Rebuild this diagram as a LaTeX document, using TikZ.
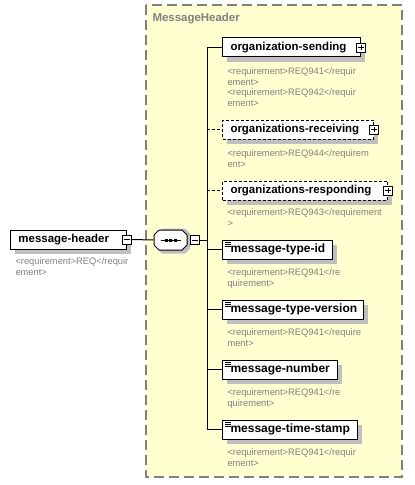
\documentclass[tikz,border=0pt]{standalone}
\usepackage{fontspec}
\setmainfont{Liberation Sans}
\usetikzlibrary{shadows}
\definecolor{groupfill}{RGB}{255,255,208}
\definecolor{framegray}{RGB}{128,128,128}
\definecolor{reqgray}{RGB}{128,128,128}
\tikzset{
  elem/.style={draw, fill=white, line width=0.75pt, anchor=west, align=left,
    minimum height=14.25pt, inner xsep=6pt, inner ysep=0pt, text width=#1,
    execute at begin node={\exhyphenpenalty=10000\hbadness=10000\hfuzz=20pt},
    font=\fontsize{8.6}{10}\selectfont\bfseries,
    drop shadow={shadow xshift=3pt, shadow yshift=-3.5pt, fill=black!25, opacity=1}},
  opt/.style={dash pattern=on 2.25pt off 1.5pt},
  simple/.style={font=\fontsize{9}{10}\selectfont\bfseries, text depth=2.6pt, path picture={
    \draw[line width=0.5pt] ([shift={(1.5pt,-1.5pt)}]path picture bounding box.north west) -- ++(4.5pt,0pt);
    \draw[line width=0.5pt] ([shift={(1.5pt,-3pt)}]path picture bounding box.north west) -- ++(4.5pt,0pt);
    \draw[line width=0.5pt] ([shift={(1.5pt,-4.5pt)}]path picture bounding box.north west) -- ++(4.5pt,0pt);}},
  req/.style={anchor=north west, inner sep=0pt, align=left, text=reqgray,
    font=\fontsize{7}{7.9}\selectfont},
  btn/.style={draw, fill=white, line width=0.6pt, minimum size=6.75pt, inner sep=0pt},
  plusbtn/.style={btn, path picture={
    \draw[line width=0.5pt] ([xshift=1.2pt]path picture bounding box.west) -- ([xshift=-1.2pt]path picture bounding box.east);
    \draw[line width=0.5pt] ([yshift=-1.2pt]path picture bounding box.north) -- ([yshift=1.2pt]path picture bounding box.south);}},
  minusbtn/.style={btn, path picture={
    \draw[line width=0.5pt] ([xshift=1.2pt]path picture bounding box.west) -- ([xshift=-1.2pt]path picture bounding box.east);}},
  seqbox/.style={rectangle, minimum width=24.75pt, minimum height=15pt, inner sep=0pt}
}
\begin{document}
\begin{tikzpicture}[x=0.75pt, y=-0.75pt, line width=0.75pt]
  \useasboundingbox (0,0) rectangle (414,485);
  % group frame
  \draw[framegray, fill=groupfill, line width=1pt, dash pattern=on 7.5pt off 3.75pt]
    (146,5) rectangle (402,477);
  \node[anchor=west, inner sep=0pt, text=framegray, font=\fontsize{8.6}{10}\selectfont\bfseries]
    (title) at (152,19) {MessageHeader};
  \coordinate (spine) at (207,240);

  % root element
  \node[elem=75pt] (header) at (10,239.5) {message-header};
  \node[minusbtn] (headerbtn) at (header.east) {};
  \node[req] (headerreq) at (15,257.5) {<requirement>REQ</requir\\ement>};

  % sequence
  \node[seqbox] (seq) at (170.5,240) {};
  \begin{scope}[shift={(seq.center)}]
    \fill[black!25] (-13.5,-6.5) -- (-8.5,-11.5) -- (14.5,-11.5) -- (19.5,-6.5) -- (19.5,8.5)
      -- (14.5,13.5) -- (-8.5,13.5) -- (-13.5,8.5) -- cycle;
    \draw[fill=white] (-16.5,-5) -- (-11.5,-10) -- (11.5,-10) -- (16.5,-5) -- (16.5,5)
      -- (11.5,10) -- (-11.5,10) -- (-16.5,5) -- cycle;
    \draw (-10,0) -- (10,0);
    \fill (-6,-1.5) rectangle (-3,1.5);
    \fill (-1.5,-1.5) rectangle (1.5,1.5);
    \fill (3,-1.5) rectangle (6,1.5);
  \end{scope}
  \node[minusbtn, anchor=west] (seqbtn) at ([xshift=2pt]seq.east) {};

  % children
  \node[elem=91.5pt] (sending) at (222,47.5) {organization-sending};
  \node[plusbtn] (sendingbtn) at (sending.east) {};
  \node[req] (sendingreq) at (227,67.5) {<requirement>REQ941</requir\\ement>\\<requirement>REQ942</requir\\ement>};

  \node[elem=101.25pt, opt] (receiving) at (222,129.5) {organizations-receiving};
  \node[plusbtn] (receivingbtn) at (receiving.east) {};
  \node[req] (receivingreq) at (227,149.5) {<requirement>REQ944</requirem\\ent>};

  \node[elem=111.75pt, opt] (responding) at (222,190.5) {organizations-responding};
  \node[plusbtn] (respondingbtn) at (responding.east) {};
  \node[req] (respondingreq) at (227,208.5) {<requirement>REQ943</requirement\\>};

  \node[elem=70.5pt, simple] (typeid) at (222,249.5) {message-type-id};
  \node[req] (typeidreq) at (227,268.5) {<requirement>REQ941</re\\quirement>};

  \node[elem=93.75pt, simple] (version) at (222,309.5) {message-type-version};
  \node[req] (versionreq) at (227,328.5) {<requirement>REQ941</require\\ment>};

  \node[elem=74.25pt, simple] (number) at (222,369.5) {message-number};
  \node[req] (numberreq) at (227,388.5) {<requirement>REQ941</re\\quirement>};

  \node[elem=89.25pt, simple] (stamp) at (222,429.5) {message-time-stamp};
  \node[req] (stampreq) at (227,448.5) {<requirement>REQ941</requir\\ement>};

  % connectors
  \draw (headerbtn.east) -- (seq.west);
  \draw (seqbtn.east) -- (seqbtn.east -| spine);
  \draw (sending.west -| spine) -- (stamp.west -| spine);
  \draw (sending.west -| spine) -- (sending.west);
  \draw[opt] (receiving.west -| spine) -- (receiving.west);
  \draw[opt] (responding.west -| spine) -- (responding.west);
  \draw (typeid.west -| spine) -- (typeid.west);
  \draw (version.west -| spine) -- (version.west);
  \draw (number.west -| spine) -- (number.west);
  \draw (stamp.west -| spine) -- (stamp.west);
\end{tikzpicture}
\end{document}
